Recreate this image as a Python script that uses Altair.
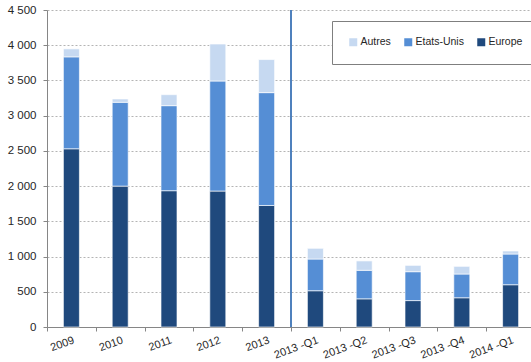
import altair as alt
import pandas as pd

categories = ["2009", "2010", "2011", "2012", "2013",
              "2013 -Q1", "2013 -Q2", "2013 -Q3", "2013 -Q4", "2014 -Q1"]
europe = [2530, 2000, 1935, 1930, 1725, 515, 400, 375, 415, 600]
etats_unis = [1305, 1190, 1207, 1562, 1602, 450, 405, 410, 337, 436]
autres = [113, 47, 156, 525, 469, 152, 133, 90, 109, 43]
series = ["Autres", "Etats-Unis", "Europe"]
colors = ["#c6d9f1", "#558ed5", "#1f497d"]
y_ticks = [0, 500, 1000, 1500, 2000, 2500, 3000, 3500, 4000, 4500]
divider_at = ["2013 -Q1"]

rows = []
for i, c in enumerate(categories):
    for name, vals, order in (("Europe", europe, 0), ("Etats-Unis", etats_unis, 1), ("Autres", autres, 2)):
        rows.append({"cat": c, "serie": name, "val": vals[i], "ord": order})
df = pd.DataFrame(rows)
df_div = pd.DataFrame({"cat": divider_at, "top": [4500], "bot": [0]})

x_axis = alt.Axis(title=None, tickBand="extent", labelAngle=-20, labelFontSize=11,
                  labelColor="#262626", domainColor="#868686", tickColor="#868686",
                  tickSize=4, labelPadding=3, grid=False, labelAlign="right",
                  labelBaseline="top", labelOverlap=False)
y_axis = alt.Axis(title=None, values=y_ticks, labelFontSize=11.5, labelColor="#262626",
                  labelExpr="replace(format(datum.value, ','), ',', ' ')",
                  labelOverlap=False,
                  domainColor="#868686", tickColor="#868686", tickSize=4,
                  labelPadding=7, grid=True, gridColor="#b4b4b4",
                  gridDash=[2, 2], gridWidth=1)
x_scale = alt.Scale(range=[0, 488], paddingInner=0, paddingOuter=0)
y_scale = alt.Scale(domain=[0, 4500], nice=False)

bars = alt.Chart(df).mark_bar(size=16, stroke="white", strokeWidth=0.8, strokeOpacity=0.8).encode(
    x=alt.X("cat:N", sort=categories, scale=x_scale, axis=x_axis),
    y=alt.Y("val:Q", stack="zero", scale=y_scale, axis=y_axis),
    color=alt.Color("serie:N", scale=alt.Scale(domain=series, range=colors),
                    legend=alt.Legend(title=None, orient="none", legendX=285, legendY=11,
                                      direction="horizontal", symbolType="square",
                                      symbolSize=64, symbolStrokeWidth=0, labelFontSize=10.5,
                                      labelColor="#262626", labelOffset=2, columnPadding=12,
                                      padding=16, strokeColor="#7f7f7f", fillColor="white",
                                      gridAlign="none")),
    order=alt.Order("ord:Q", sort="ascending"),
)

divider = alt.Chart(df_div).mark_rule(color="#4f81bd", strokeWidth=2).encode(
    x=alt.X("cat:N", sort=categories, bandPosition=0, scale=x_scale, axis=x_axis),
    y=alt.Y("top:Q", scale=y_scale, axis=y_axis),
    y2="bot:Q",
)

chart = alt.layer(bars, divider).properties(
    width=484, height=317,
    autosize=alt.AutoSizeParams(type="none"),
    padding={"left": 47, "top": 10, "right": 0, "bottom": 35},
).configure(font="Liberation Sans").configure_view(stroke=None)

chart.save("out.html", embed_options={"renderer": "svg", "actions": False})
